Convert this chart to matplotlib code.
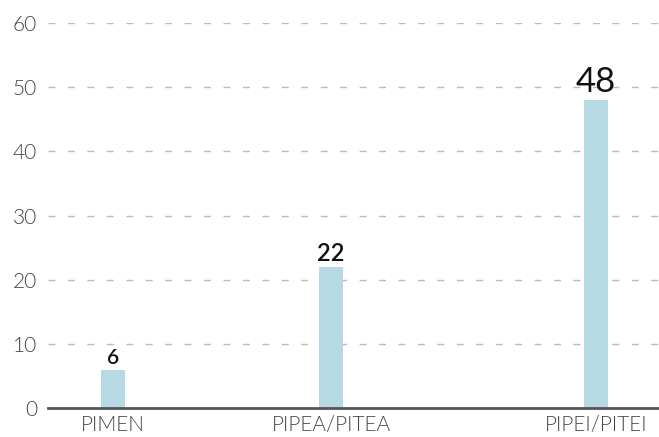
import matplotlib.pyplot as plt

categories = ['PIMEN', 'PIPEA/PITEA', 'PIPEI/PITEI']
values = [6, 22, 48]
yticks = [0, 10, 20, 30, 40, 50, 60]

# layout (pixel-like units across the axes)
positions = [65, 283, 548]
label_sizes = [15, 17, 25]
label_weights = [600, 600, 400]

plt.rcParams['font.family'] = ['Lato', 'DejaVu Sans']

fig = plt.figure(figsize=(6.59, 4.37), dpi=100)
ax = fig.add_axes([48 / 659, 29 / 437, 611 / 659, 385 / 437])

ax.bar(positions, values, width=24, color='#b6d9e3', zorder=3)

for x, v, s, w in zip(positions, values, label_sizes, label_weights):
    ax.text(x, v + 0.3, str(v), ha='center', va='bottom', fontsize=s,
            fontweight=w, color='#111111', zorder=4)

ax.set_xlim(0, 611)
ax.set_ylim(0, 60)
ax.set_yticks(yticks)
ax.set_yticklabels([str(t) for t in yticks], fontsize=15, color='#444444',
                   fontweight=300)
ax.set_xticks(positions)
ax.set_xticklabels(categories, fontsize=15, color='#444444', fontweight=300)
ax.tick_params(axis='both', length=0)
ax.tick_params(axis='y', pad=8)
ax.tick_params(axis='x', pad=5)

for t in yticks[1:]:
    ax.axhline(t, color='#bbbbbb', linewidth=1, linestyle=(0, (5, 9)), zorder=1)

for sp in ['top', 'right', 'left']:
    ax.spines[sp].set_visible(False)
ax.spines['bottom'].set_color('#555555')
ax.spines['bottom'].set_linewidth(2)
ax.spines['bottom'].set_zorder(5)

fig.savefig('out.png', dpi=100)
